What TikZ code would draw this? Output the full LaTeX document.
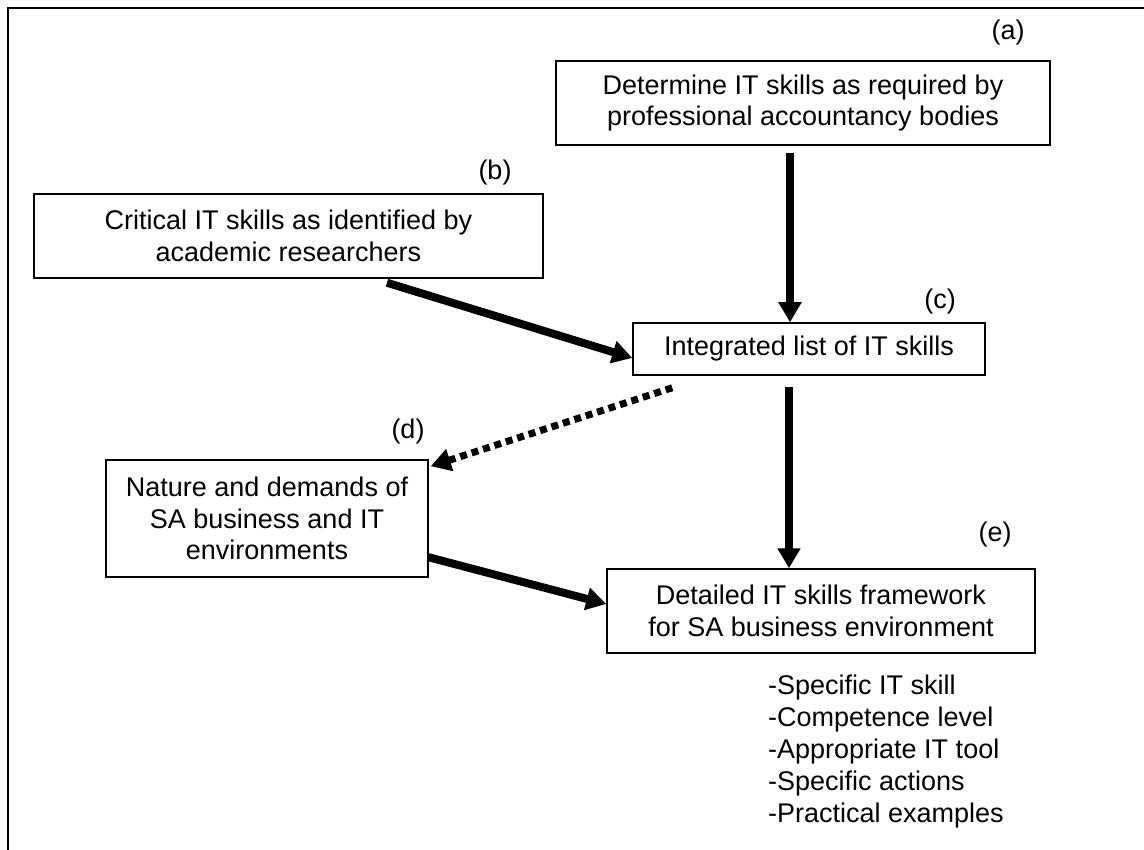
\documentclass[tikz,border=0pt]{standalone}
\usepackage{fontspec}
\setmainfont{Liberation Sans}
\usetikzlibrary{arrows.meta}

\begin{document}
\begin{tikzpicture}[x=1pt,y=-1pt,
  box/.style={draw,line width=1.5pt,align=center,inner sep=0pt,font=\fontsize{27}{31.5}\selectfont},
  tag/.style={inner sep=0pt,font=\fontsize{27}{31.5}\selectfont},
  bigarrow/.style={line width=8pt,-{Triangle[width=22pt,length=20pt]}},
  dotarrow/.style={bigarrow,line width=7pt,dash pattern=on 7pt off 5pt}]
\useasboundingbox (0,0) rectangle (1144,850);
\draw[line width=2pt] (8,850) -- (8,8) -- (1144,8);

% boxes
\node[box,minimum width=494pt,minimum height=84pt] (a) at (803,103)
  {Determine IT skills as required by\\professional accountancy bodies};
\node[box,minimum width=509pt,minimum height=84pt] (b) at (288.5,236)
  {Critical IT skills as identified by\\academic researchers};
\node[box,minimum width=352pt,minimum height=52pt] (c) at (809,349)
  {Integrated list of IT skills};
\node[box,minimum width=322pt,minimum height=117pt] (d) at (267,518.5)
  {Nature and demands of\\SA business and IT\\environments};
\node[box,minimum width=428pt,minimum height=84pt] (e) at (821,611)
  {Detailed IT skills framework\\for SA business environment};

% labels
\node[tag] (la) at (1008,33) {(a)};
\node[tag] (lb) at (495,173) {(b)};
\node[tag] (lc) at (940,302) {(c)};
\node[tag] (ld) at (408,432) {(d)};
\node[tag] (le) at (995,535) {(e)};

\node[tag,align=left,anchor=north west,font=\fontsize{27}{32}\selectfont] (list) at (768,675)
  {-Specific IT skill\\-Competence level\\-Appropriate IT tool\\-Specific actions\\-Practical examples};

% arrows
\draw[bigarrow] ([shift={(-13,7)}]a.south) -- ([xshift=-19pt]c.north);
\draw[bigarrow] ([shift={(98.5,4)}]b.south) -- ([shift={(0,9)}]c.west);
\draw[dotarrow] ([shift={(40,12)}]c.south west) -- ([shift={(2,7)}]d.north east);
\draw[bigarrow] ([shift={(-20,11)}]c.south) -- ([xshift=-32pt]e.north);
\draw[bigarrow] ([shift={(-1,38.5)}]d.east) -- ([shift={(0,-7)}]e.west);
\end{tikzpicture}
\end{document}
